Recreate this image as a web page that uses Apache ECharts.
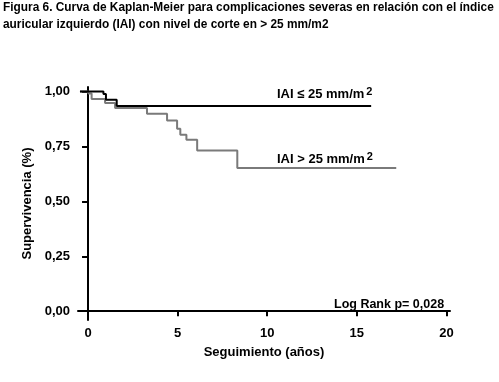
<!DOCTYPE html>
<html><head><meta charset="utf-8">
<script src="https://cdn.jsdelivr.net/npm/echarts@6/dist/echarts.min.js"></script>
<style>html,body{margin:0;padding:0;background:#fff}#c{width:499px;height:382px}</style>
</head><body><div id="c"></div>
<script>
var titleLines = ["Figura 6. Curva de Kaplan-Meier para complicaciones severas en relación con el índice", "auricular izquierdo (IAI) con nivel de corte en > 25 mm/m2"];
var xTicks = [0, 5, 10, 15, 20];
var yTicks = [0, 0.25, 0.5, 0.75, 1];
// IAI <= 25 mm/m2 (black)
var lowTimes = [-0.45, 0.86, 1.0, 1.6, 15.8];
var lowSurv  = [1.0, 0.988, 0.962, 0.934, 0.934];
// IAI > 25 mm/m2 (gray)
var highTimes = [-0.45, 0.02, 0.2, 0.95, 1.51, 3.29, 4.41, 4.97, 5.15, 5.49, 6.09, 8.33, 17.2];
var highSurv  = [1.0, 0.99, 0.965, 0.947, 0.925, 0.898, 0.868, 0.83, 0.803, 0.78, 0.731, 0.652, 0.652];

function pairs(t, s){ return t.map(function(v,i){return [v, s[i]];}); }
var F = '"Liberation Sans", Arial, sans-serif';
var chart = echarts.init(document.getElementById('c'), null, {renderer:'canvas'});
chart.setOption({
  animation:false,
  backgroundColor:'#fff',
  grid:{left:78, right:49, top:87, bottom:62},
  xAxis:{type:'value', min:-0.56, max:20.2,
    name:'Seguimiento (años)', nameLocation:'middle', nameGap:26,
    nameTextStyle:{fontFamily:F, fontSize:13, fontWeight:'bold', color:'#000'},
    axisLine:{show:true, lineStyle:{color:'#000', width:2}},
    axisTick:{show:true, customValues:xTicks, length:5, lineStyle:{color:'#000', width:2}},
    axisLabel:{customValues:xTicks, fontFamily:F, fontSize:13, fontWeight:'bold', color:'#000', margin:7},
    splitLine:{show:false}},
  yAxis:{type:'value', min:-0.04, max:1.02,
    name:'Supervivencia (%)', nameLocation:'middle', nameGap:43, nameRotate:90,
    nameTextStyle:{fontFamily:F, fontSize:13, fontWeight:'bold', color:'#000'},
    axisLine:{show:true, lineStyle:{color:'#000', width:2}},
    axisTick:{show:true, customValues:yTicks, length:6, lineStyle:{color:'#000', width:2}},
    axisLabel:{customValues:yTicks, fontFamily:F, fontSize:13, fontWeight:'bold', color:'#000', margin:8,
      formatter:function(v){return v.toFixed(2).replace('.', ',');}},
    splitLine:{show:false}},
  series:[
    {type:'line', step:'end', showSymbol:false, data:pairs(highTimes, highSurv), lineStyle:{color:'#7a7a7a', width:2}, z:2},
    {type:'line', step:'end', showSymbol:false, data:pairs(lowTimes, lowSurv), lineStyle:{color:'#000', width:2}, z:3}
  ],
  graphic:[
    {type:'text', x:3, y:1, scaleX:0.913, style:{text:titleLines[0], fontFamily:F, fontSize:13, fontWeight:'bold', fill:'#000', verticalAlign:'top'}},
    {type:'text', x:3, y:18, scaleX:0.913, style:{text:titleLines[1], fontFamily:F, fontSize:13, fontWeight:'bold', fill:'#000', verticalAlign:'top'}},
    {type:'text', left:277, top:86, style:{text:'{a|IAI ≤ 25 mm/m}{s|2}', rich:{a:{fontFamily:F, fontSize:13, fontWeight:'bold', fill:'#000'}, s:{fontFamily:F, fontSize:11, fontWeight:'bold', fill:'#000', verticalAlign:'top', padding:[0,0,6,2]}}}},
    {type:'text', left:277, top:151, style:{text:'{a|IAI > 25 mm/m}{s|2}', rich:{a:{fontFamily:F, fontSize:13, fontWeight:'bold', fill:'#000'}, s:{fontFamily:F, fontSize:11, fontWeight:'bold', fill:'#000', verticalAlign:'top', padding:[0,0,6,2]}}}},
    {type:'text', left:334, top:298, style:{text:'Log Rank p= 0,028', fontFamily:F, fontSize:12.5, fontWeight:'bold', fill:'#000'}}
  ]
});
</script></body></html>
